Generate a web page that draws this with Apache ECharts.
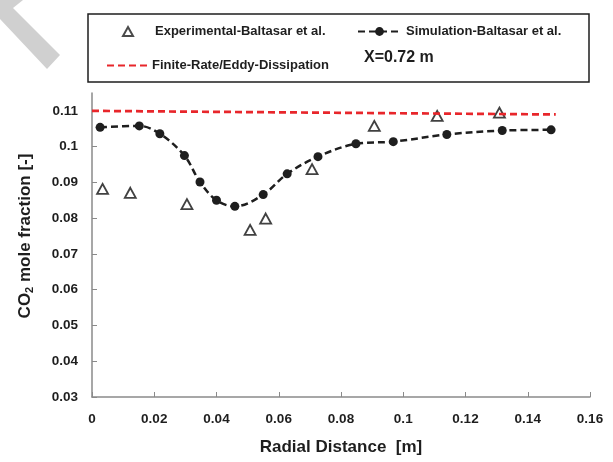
<!DOCTYPE html>
<html>
<head>
<meta charset="utf-8">
<script src="https://cdn.jsdelivr.net/npm/echarts@6/dist/echarts.min.js"></script>
<style>
  html, body { margin: 0; padding: 0; background: #fff; }
  #chart { width: 613px; height: 462px; }
</style>
</head>
<body>
<div id="chart"></div>
<script>
// Radial CO2 mole-fraction profiles at X = 0.72 m
const simRadial = [0.0026, 0.0152, 0.0218, 0.0297, 0.0347, 0.0400, 0.0459, 0.0550, 0.0627, 0.0726, 0.0848, 0.0968, 0.1140, 0.1318, 0.1475];
const simCO2    = [0.1054, 0.1058, 0.1036, 0.0975, 0.0901, 0.0850, 0.0833, 0.0866, 0.0924, 0.0972, 0.1008, 0.1014, 0.1034, 0.1045, 0.1047];

const expRadial = [0.0034, 0.0123, 0.0305, 0.0508, 0.0558, 0.0707, 0.0907, 0.1109, 0.1309];
const expCO2    = [0.0882, 0.0871, 0.0839, 0.0767, 0.0799, 0.0937, 0.1058, 0.1086, 0.1095];

const edmRadial = [0, 0.149];
const edmCO2    = [0.1100, 0.1090];

const xTicks = [0, 0.02, 0.04, 0.06, 0.08, 0.1, 0.12, 0.14, 0.16];
const yTicks = [0.03, 0.04, 0.05, 0.06, 0.07, 0.08, 0.09, 0.1, 0.11];

const seriesNames = ['Experimental-Baltasar et al.', 'Simulation-Baltasar et al.', 'Finite-Rate/Eddy-Dissipation'];
const stationLabel = 'X=0.72 m';

const pairs = (xs, ys) => xs.map((x, i) => [x, ys[i]]);
const FONT = '"Liberation Sans Narrow", "Liberation Sans", Arial, sans-serif';
const INK = '#1e1e1e';
const AXIS = '#8a8a8a';
const fmt = v => String(+(+v).toFixed(3));

const chart = echarts.init(document.getElementById('chart'), null, { renderer: 'canvas' });

chart.setOption({
  animation: false,
  backgroundColor: '#ffffff',
  grid: { left: 92, right: 23, top: 93, bottom: 65 },
  title: {
    text: stationLabel,
    left: 364, top: 50, padding: 0,
    textStyle: { fontFamily: FONT, fontSize: 16, fontWeight: 'bold', color: INK }
  },
  legend: [
    {
      data: [seriesNames[0]], left: 122, top: 25, padding: 0,
      itemWidth: 10, itemHeight: 9,
      itemStyle: { borderColor: INK, borderWidth: 2 },
      textStyle: { fontFamily: FONT, fontSize: 13, fontWeight: 'bold', color: INK, padding: [0, 0, 0, 17] }
    },
    {
      data: [seriesNames[1]], left: 357, top: 25, padding: 0,
      itemWidth: 43, itemHeight: 11,
      textStyle: { fontFamily: FONT, fontSize: 13, fontWeight: 'bold', color: INK }
    },
    {
      data: [seriesNames[2]], left: 106, top: 59, padding: 0,
      itemWidth: 40, itemHeight: 11,
      itemStyle: { opacity: 0 },
      textStyle: { fontFamily: FONT, fontSize: 13, fontWeight: 'bold', color: INK }
    }
  ],
  xAxis: {
    type: 'value', min: 0, max: 0.16,
    name: 'Radial Distance  [m]', nameLocation: 'middle', nameGap: 42,
    nameTextStyle: { fontFamily: FONT, fontSize: 17, fontWeight: 'bold', color: INK },
    axisLine: { lineStyle: { color: AXIS, width: 1.5 } },
    axisTick: { inside: true, length: 5, customValues: xTicks, lineStyle: { color: AXIS, width: 1 } },
    axisLabel: { customValues: xTicks, margin: 15, formatter: fmt,
      fontFamily: FONT, fontSize: 13.5, fontWeight: 'bold', color: INK },
    splitLine: { show: false }
  },
  yAxis: {
    type: 'value', min: 0.03, max: 0.115,
    name: '{a|CO}{s|2}{a| mole fraction [-]}', nameLocation: 'middle', nameGap: 57,
    nameTextStyle: {
      color: INK,
      padding: [0, 0, 0, 18],
      rich: {
        a: { fontFamily: FONT, fontSize: 17, fontWeight: 'bold', color: INK, lineHeight: 18, verticalAlign: 'top', padding: [0, 0, 2, 0] },
        s: { fontFamily: FONT, fontSize: 11, fontWeight: 'bold', color: INK, lineHeight: 11, verticalAlign: 'bottom' }
      }
    },
    axisLine: { show: true, lineStyle: { color: AXIS, width: 1.5 } },
    axisTick: { show: true, inside: true, length: 5, customValues: yTicks, lineStyle: { color: AXIS, width: 1 } },
    axisLabel: { customValues: yTicks, margin: 14, formatter: fmt,
      fontFamily: FONT, fontSize: 13.5, fontWeight: 'bold', color: INK },
    splitLine: { show: false }
  },
  series: [
    {
      name: seriesNames[0], type: 'scatter',
      data: pairs(expRadial, expCO2),
      symbol: 'triangle', symbolSize: [11, 10],
      itemStyle: { color: 'rgba(255,255,255,0)', borderColor: '#111', borderWidth: 1.8 },
      z: 4
    },
    {
      name: seriesNames[1], type: 'line',
      data: pairs(simRadial, simCO2),
      smooth: 0.35,
      symbol: 'circle', symbolSize: 9, showSymbol: true,
      lineStyle: { color: INK, width: 2.5, type: [7, 4] },
      itemStyle: { color: INK },
      z: 3
    },
    {
      name: seriesNames[2], type: 'line',
      data: pairs(edmRadial, edmCO2),
      symbol: 'none',
      lineStyle: { color: '#e8262b', width: 2.7, type: [7, 4] },
      itemStyle: { color: '#e8262b' },
      z: 5
    }
  ],
  graphic: [
    {
      type: 'rect', silent: true,
      shape: { x: 88, y: 14, width: 501, height: 68 },
      style: { fill: 'none', stroke: INK, lineWidth: 1.5 }
    },
    {
      type: 'polygon', silent: true,
      shape: { points: [[0, 0], [23, 0], [13, 8], [60, 55], [47, 69], [0, 19]] },
      style: { fill: '#d0d0d0' }
    }
  ]
});
</script>
</body>
</html>
